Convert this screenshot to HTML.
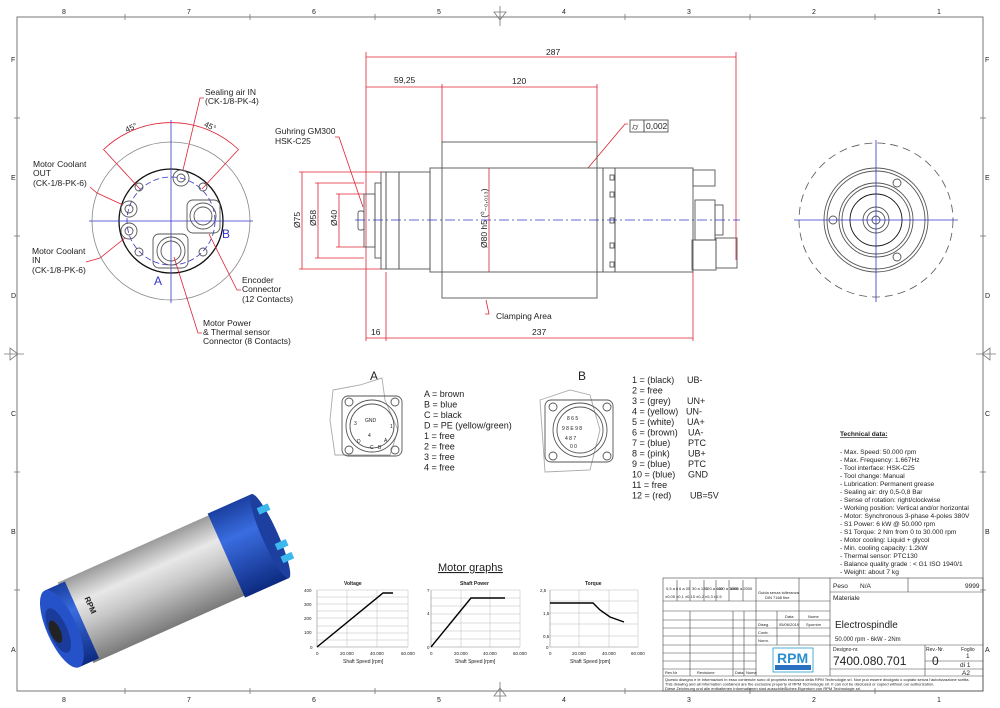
<!DOCTYPE html>
<html><head><meta charset="utf-8"><style>
html,body{margin:0;padding:0;background:#fff}
svg{display:block}
text{font-family:"Liberation Sans",Arial,sans-serif;fill:#222}
.r{stroke:#d23;stroke-width:.8;fill:none}
.k{stroke:#555;stroke-width:.9;fill:none}
.kb{stroke:#111;stroke-width:1.3;fill:none}
.b{stroke:#33c;stroke-width:.8;fill:none}
.bd{stroke:#33c;stroke-width:.8;fill:none;stroke-dasharray:10 3 2 3}
.g{stroke:#bbb;stroke-width:.5;fill:none}
</style></head><body>
<svg width="1000" height="708" viewBox="0 0 1000 708" xmlns="http://www.w3.org/2000/svg">
<defs>
<linearGradient id="sil" x1="0" y1="0" x2="0" y2="1"><stop offset="0" stop-color="#9a9a9a"/><stop offset=".3" stop-color="#e8e8e8"/><stop offset=".55" stop-color="#c8c8c8"/><stop offset="1" stop-color="#7a7a7a"/></linearGradient>
<linearGradient id="blu" x1="0" y1="0" x2="0" y2="1"><stop offset="0" stop-color="#1a3fa0"/><stop offset=".35" stop-color="#3a6de0"/><stop offset="1" stop-color="#0d2a80"/></linearGradient>
</defs>
<rect x="17" y="17" width="966" height="674" fill="none" stroke="#777" stroke-width="1"/>
<g font-size="7" fill="#666">
<text x="62" y="14">8</text><text x="187" y="14">7</text><text x="312" y="14">6</text><text x="437" y="14">5</text><text x="562" y="14">4</text><text x="687" y="14">3</text><text x="812" y="14">2</text><text x="937" y="14">1</text>
<text x="62" y="702">8</text><text x="187" y="702">7</text><text x="312" y="702">6</text><text x="437" y="702">5</text><text x="562" y="702">4</text><text x="687" y="702">3</text><text x="812" y="702">2</text><text x="937" y="702">1</text>
<text x="11" y="62">F</text><text x="11" y="180">E</text><text x="11" y="298">D</text><text x="11" y="416">C</text><text x="11" y="534">B</text><text x="11" y="652">A</text>
<text x="985" y="62">F</text><text x="985" y="180">E</text><text x="985" y="298">D</text><text x="985" y="416">C</text><text x="985" y="534">B</text><text x="985" y="652">A</text>
</g>
<g stroke="#777" stroke-width=".8">
<line x1="125" y1="14" x2="125" y2="20"/><line x1="250" y1="14" x2="250" y2="20"/><line x1="375" y1="14" x2="375" y2="20"/><line x1="625" y1="14" x2="625" y2="20"/><line x1="750" y1="14" x2="750" y2="20"/><line x1="875" y1="14" x2="875" y2="20"/>
<line x1="125" y1="688" x2="125" y2="694"/><line x1="250" y1="688" x2="250" y2="694"/><line x1="375" y1="688" x2="375" y2="694"/><line x1="625" y1="688" x2="625" y2="694"/><line x1="750" y1="688" x2="750" y2="694"/><line x1="875" y1="688" x2="875" y2="694"/>
<line x1="14" y1="118" x2="20" y2="118"/><line x1="14" y1="236" x2="20" y2="236"/><line x1="14" y1="472" x2="20" y2="472"/><line x1="14" y1="590" x2="20" y2="590"/>
<line x1="980" y1="118" x2="986" y2="118"/><line x1="980" y1="236" x2="986" y2="236"/><line x1="980" y1="472" x2="986" y2="472"/><line x1="980" y1="590" x2="986" y2="590"/>
</g>
<g fill="none" stroke="#777" stroke-width=".8">
<path d="M500 6 L500 26 M494 12 L506 12 L500 20 Z"/><path d="M500 702 L500 682 M494 696 L506 696 L500 688 Z"/>
<path d="M4 354 L24 354 M10 348 L10 360 L18 354 Z"/><path d="M996 354 L976 354 M990 348 L990 360 L982 354 Z"/>
</g>

<!-- LEFT VIEW -->
<circle cx="171" cy="221" r="79" fill="none" stroke="#888" stroke-width=".8"/>
<circle cx="171" cy="221" r="52" class="kb"/>
<circle cx="171" cy="221" r="44" class="b" stroke-dasharray="6 3" stroke-width=".6"/>
<line x1="89" y1="221" x2="253" y2="221" class="b"/>
<line x1="171" y1="120" x2="171" y2="303" class="b"/>
<path d="M103 150 A98 98 0 0 1 239 150" class="r"/>
<line x1="104" y1="150" x2="140" y2="189" class="r"/><line x1="238" y1="150" x2="202" y2="189" class="r"/>
<text x="126" y="131" font-size="8" transform="rotate(-25 130 130)">45°</text>
<text x="204" y="128" font-size="8" transform="rotate(25 208 126)">45°</text>
<g class="k"><circle cx="181" cy="178" r="8"/><circle cx="181" cy="178" r="4"/>
<circle cx="129" cy="209" r="8"/><circle cx="129" cy="209" r="4"/>
<circle cx="129" cy="231" r="8"/><circle cx="129" cy="231" r="4"/>
<circle cx="139" cy="187" r="4"/><circle cx="203" cy="187" r="4"/><circle cx="139" cy="252" r="4"/><circle cx="203" cy="252" r="4"/>
<rect x="187" y="200" width="33" height="33" rx="6"/><circle cx="203" cy="216" r="13"/><circle cx="203" cy="216" r="9"/>
<rect x="153" y="234" width="35" height="34" rx="6"/><circle cx="171" cy="251" r="14"/><circle cx="171" cy="251" r="10"/></g>
<text x="222" y="238" font-size="12" style="fill:#33c">B</text>
<text x="154" y="285" font-size="12" style="fill:#33c">A</text>
<g font-size="8.5">
<text x="205" y="95">Sealing air IN</text><text x="205" y="104">(CK-1/8-PK-4)</text>
<text x="33" y="167">Motor Coolant</text><text x="33" y="176">OUT</text><text x="33" y="186">(CK-1/8-PK-6)</text>
<text x="32" y="254">Motor Coolant</text><text x="32" y="263">IN</text><text x="32" y="273">(CK-1/8-PK-6)</text>
<text x="242" y="283">Encoder</text><text x="242" y="292">Connector</text><text x="242" y="302">(12 Contacts)</text>
<text x="203" y="326">Motor Power</text><text x="203" y="335">&amp; Thermal sensor</text><text x="203" y="344">Connector (8 Contacts)</text>
</g>
<g class="r"><path d="M204 98 L200 98 L183 170"/><path d="M90 187 L97 193 L123 205"/><path d="M86 262 L100 258 L125 238"/><path d="M241 290 L237 290 L209 234"/><path d="M202 333 L198 333 L174 257"/></g>

<!-- MIDDLE SIDE VIEW -->
<g class="r">
<line x1="366" y1="52" x2="366" y2="341"/><line x1="736" y1="52" x2="736" y2="260"/>
<line x1="366" y1="57" x2="736" y2="57"/>
<line x1="366" y1="87" x2="442" y2="87"/><line x1="442" y1="87" x2="597" y2="87"/>
<line x1="442" y1="84" x2="442" y2="142"/><line x1="597" y1="84" x2="597" y2="142"/>
<line x1="366" y1="338" x2="386" y2="338"/><line x1="386" y1="338" x2="693" y2="338"/>
<line x1="386" y1="272" x2="386" y2="341"/><line x1="693" y1="272" x2="693" y2="341"/>
<line x1="302" y1="172" x2="302" y2="269"/><line x1="299" y1="172" x2="381" y2="172"/><line x1="299" y1="269" x2="381" y2="269"/>
<line x1="318" y1="183" x2="318" y2="258"/><line x1="315" y1="183" x2="364" y2="183"/><line x1="315" y1="258" x2="364" y2="258"/>
<line x1="339" y1="194" x2="339" y2="247"/><line x1="336" y1="194" x2="364" y2="194"/><line x1="336" y1="247" x2="364" y2="247"/>
<line x1="489" y1="168" x2="489" y2="272"/>
<path d="M335 137 L339 137 L363 207"/><path d="M628 124 L625 124 L588 168"/><path d="M485 314 L489 314 L486 300"/>
</g>
<g font-size="8.5"><text x="546" y="55">287</text><text x="394" y="83">59,25</text><text x="512" y="84">120</text><text x="371" y="335">16</text><text x="532" y="335">237</text>
<text x="275" y="134">Guhring GM300</text><text x="275" y="144">HSK-C25</text><text x="496" y="319">Clamping Area</text>
<text transform="translate(300 228) rotate(-90)">Ø75</text><text transform="translate(316 226) rotate(-90)">Ø58</text><text transform="translate(337 226) rotate(-90)">Ø40</text>
<text transform="translate(487 248) rotate(-90)">Ø80 h5 (⁰₋₀,₀₁₃)</text></g>
<rect x="630" y="120" width="14" height="12" class="k"/><rect x="644" y="120" width="24" height="12" class="k"/><text x="646" y="129" font-size="8.5">0,002</text><text x="632" y="130" font-size="9">⌭</text>
<g class="k">
<rect x="442" y="142" width="155" height="156"/>
<rect x="430" y="168" width="173" height="104"/>
<rect x="603" y="168" width="12" height="104"/><rect x="615" y="168" width="78" height="104"/>
<rect x="399" y="172" width="31" height="97"/><rect x="381" y="172" width="5" height="97"/><rect x="386" y="172" width="13" height="97"/>
<rect x="375" y="183" width="6" height="75"/><rect x="364" y="194" width="11" height="53"/><rect x="358" y="211" width="6" height="19" rx="2"/>
<rect x="693" y="170" width="22" height="16"/><rect x="695" y="200" width="20" height="40"/><rect x="715" y="205" width="8" height="30"/><rect x="692" y="240" width="24" height="30"/><rect x="716" y="238" width="21" height="30"/>
<rect x="610" y="175" width="4" height="5"/><rect x="610" y="192" width="4" height="5"/><rect x="610" y="218" width="4" height="5"/><rect x="610" y="243" width="4" height="5"/><rect x="610" y="262" width="4" height="5"/>
</g>
<line x1="355" y1="220" x2="740" y2="220" class="bd"/>

<!-- RIGHT VIEW -->
<circle cx="876" cy="220" r="77" fill="none" stroke="#555" stroke-width=".8" stroke-dasharray="8 5"/>
<g class="k"><circle cx="876" cy="220" r="52"/><circle cx="876" cy="220" r="49"/><circle cx="876" cy="220" r="37"/><circle cx="876" cy="220" r="34"/>
<circle cx="876" cy="220" r="26" stroke="#111"/><circle cx="876" cy="220" r="13"/><circle cx="876" cy="220" r="9"/><circle cx="876" cy="220" r="4"/>
<circle cx="897" cy="183" r="4"/><circle cx="833" cy="220" r="4"/><circle cx="897" cy="257" r="4"/></g>
<line x1="794" y1="220" x2="958" y2="220" class="b"/><line x1="876" y1="140" x2="876" y2="302" class="b"/>

<!-- CONNECTORS -->
<text x="370" y="380" font-size="12">A</text><text x="578" y="380" font-size="12">B</text>
<g class="k" stroke-width=".7">
<path d="M333 390 L360 385 L382 378 L385 400 L398 430 L390 455 L335 455 L330 420 Z" stroke="#aaa"/>
<rect x="342" y="396" width="60" height="60" rx="6"/><circle cx="372" cy="426" r="26"/><circle cx="372" cy="426" r="22"/>
<circle cx="349" cy="402" r="4"/><circle cx="395" cy="402" r="4"/><circle cx="349" cy="450" r="4"/><circle cx="395" cy="450" r="4"/>
<path d="M540 400 L570 390 L590 395 L600 430 L590 470 L545 472 Z" stroke="#aaa"/>
<rect x="545" y="400" width="68" height="62" rx="6"/><circle cx="580" cy="430" r="27"/><circle cx="580" cy="430" r="23"/>
<circle cx="553" cy="407" r="4"/><circle cx="607" cy="407" r="4"/><circle cx="553" cy="456" r="4"/><circle cx="607" cy="456" r="4"/>
</g>
<g font-size="5" fill="#333"><text x="365" y="422">GND</text><text x="354" y="425">3</text><text x="390" y="428">1</text><text x="368" y="437">4</text><text x="357" y="443">D</text><text x="384" y="442">A</text><text x="370" y="449">C</text><text x="378" y="449">B</text>
<text x="567" y="420">8 6 5</text><text x="562" y="430">9 8 E 9 8</text><text x="565" y="440">4 8 7</text><text x="570" y="448">0 0</text></g>
<g font-size="9">
<text x="424" y="397">A = brown</text><text x="424" y="407.5">B = blue</text><text x="424" y="418">C = black</text><text x="424" y="428.5">D = PE (yellow/green)</text><text x="424" y="439">1 = free</text><text x="424" y="449.5">2 = free</text><text x="424" y="460">3 = free</text><text x="424" y="470.5">4 = free</text>
<text x="632" y="383">1 = (black)</text><text x="687" y="383">UB-</text>
<text x="632" y="393.5">2 = free</text>
<text x="632" y="404">3 = (grey)</text><text x="687" y="404">UN+</text>
<text x="632" y="414.5">4 = (yellow)</text><text x="686" y="414.5">UN-</text>
<text x="632" y="425">5 = (white)</text><text x="687" y="425">UA+</text>
<text x="632" y="435.5">6 = (brown)</text><text x="688" y="435.5">UA-</text>
<text x="632" y="446">7 = (blue)</text><text x="688" y="446">PTC</text>
<text x="632" y="456.5">8 = (pink)</text><text x="688" y="456.5">UB+</text>
<text x="632" y="467">9 = (blue)</text><text x="688" y="467">PTC</text>
<text x="632" y="477.5">10 = (blue)</text><text x="688" y="477.5">GND</text>
<text x="632" y="488">11 = free</text>
<text x="632" y="498.5">12 = (red)</text><text x="690" y="498.5">UB=5V</text>
</g>

<!-- TECH DATA -->
<g font-size="6.6">
<text x="840" y="436" font-weight="bold" text-decoration="underline">Technical data:</text>
<text x="840" y="454">- Max. Speed: 50.000 rpm</text>
<text x="840" y="462">- Max. Frequency: 1.667Hz</text>
<text x="840" y="470">- Tool interface: HSK-C25</text>
<text x="840" y="478">- Tool change: Manual</text>
<text x="840" y="486">- Lubrication: Permanent grease</text>
<text x="840" y="494">- Sealing air: dry 0,5-0,8 Bar</text>
<text x="840" y="502">- Sense of rotation: right/clockwise</text>
<text x="840" y="510">- Working position: Vertical and/or horizontal</text>
<text x="840" y="518">- Motor: Synchronous 3-phase 4-poles 380V</text>
<text x="840" y="526">- S1 Power: 6 kW @ 50.000 rpm</text>
<text x="840" y="534">- S1 Torque: 2 Nm from 0 to 30.000 rpm</text>
<text x="840" y="542">- Motor cooling: Liquid + glycol</text>
<text x="840" y="550">- Min. cooling capacity: 1.2kW</text>
<text x="840" y="558">- Thermal sensor:  PTC130</text>
<text x="840" y="566">- Balance quality grade : &lt; G1 ISO 1940/1</text>
<text x="840" y="574">- Weight: about 7 kg</text>
</g>

<!-- PHOTO -->
<g transform="translate(-5 12) rotate(-24 150 570)">
<rect x="70" y="535" width="170" height="88" fill="url(#sil)"/>
<rect x="235" y="533" width="48" height="92" fill="url(#blu)"/>
<ellipse cx="283" cy="579" rx="8" ry="46" fill="#1c3fa0"/>
<rect x="282" y="548" width="12" height="7" fill="#3bb8ee"/><rect x="284" y="588" width="12" height="7" fill="#3bb8ee"/><rect x="284" y="602" width="12" height="7" fill="#3bb8ee"/>
<rect x="55" y="537" width="22" height="84" fill="url(#blu)"/>
<ellipse cx="55" cy="579" rx="15" ry="42" fill="#2552c8"/>
<ellipse cx="51" cy="579" rx="9" ry="24" fill="#1a3b99"/>
<ellipse cx="48" cy="579" rx="5" ry="12" fill="#222"/>
<text x="88" y="560" font-size="8" font-weight="bold" transform="rotate(90 88 560)">RPM</text>
</g>

<!-- GRAPHS -->
<text x="438" y="571" font-size="11" text-decoration="underline">Motor graphs</text>
<g font-size="5">
<text x="344" y="585" font-weight="bold">Voltage</text><text x="460" y="585" font-weight="bold">Shaft Power</text><text x="585" y="585" font-weight="bold">Torque</text>
<text x="343" y="663">Shaft Speed [rpm]</text><text x="455" y="663">Shaft Speed [rpm]</text><text x="570" y="663">Shaft Speed [rpm]</text>
</g>
<g class="g">
<path d="M317 590 H408 M317 597 H408 M317 604 H408 M317 611 H408 M317 618 H408 M317 626 H408 M317 633 H408 M317 640 H408 M347 590 V647 M377 590 V647 M408 590 V647"/>
<path d="M431 590 H520 M431 598 H520 M431 606 H520 M431 614 H520 M431 623 H520 M431 631 H520 M431 639 H520 M461 590 V647 M490 590 V647 M520 590 V647"/>
<path d="M550 590 H638 M550 601 H638 M550 613 H638 M550 624 H638 M550 636 H638 M579 590 V647 M609 590 V647 M638 590 V647"/>
</g>
<g stroke="#888" stroke-width=".6" fill="none"><path d="M317 590 V647 H408"/><path d="M431 590 V647 H520"/><path d="M550 590 V647 H638"/></g>
<g stroke="#000" stroke-width="1.4" fill="none"><path d="M317 647 L383 593 L393 593"/><path d="M431 647 L471 598 L505 598"/><path d="M550 603 L593 603 L600 610 L610 617 L624 622"/></g>
<g font-size="4.5" fill="#444">
<text x="304" y="592">400</text><text x="304" y="606">300</text><text x="304" y="620">200</text><text x="304" y="634">100</text><text x="310" y="649">0</text>
<text x="427" y="592">7</text><text x="427" y="615">4</text><text x="427" y="649">0</text>
<text x="540" y="592">2,5</text><text x="543" y="615">1,5</text><text x="543" y="638">0,5</text><text x="546" y="649">0</text>
<text x="316" y="655">0</text><text x="340" y="655">20.000</text><text x="370" y="655">40.000</text><text x="401" y="655">60.000</text>
<text x="430" y="655">0</text><text x="454" y="655">20.000</text><text x="483" y="655">40.000</text><text x="513" y="655">60.000</text>
<text x="549" y="655">0</text><text x="572" y="655">20.000</text><text x="602" y="655">40.000</text><text x="631" y="655">60.000</text>
</g>

<!-- TITLE BLOCK -->
<g stroke="#444" stroke-width=".6" fill="none">
<rect x="663" y="578" width="320" height="113"/>
<line x1="663" y1="676" x2="983" y2="676"/>
<line x1="756" y1="578" x2="756" y2="676"/><line x1="799" y1="578" x2="799" y2="645"/><line x1="830" y1="578" x2="830" y2="676"/>
<line x1="830" y1="592" x2="983" y2="592"/><line x1="908" y1="578" x2="908" y2="592"/>
<line x1="663" y1="601" x2="830" y2="601"/><line x1="663" y1="611" x2="830" y2="611"/>
<line x1="663" y1="620" x2="756" y2="620"/><line x1="663" y1="628" x2="756" y2="628"/><line x1="663" y1="636" x2="756" y2="636"/><line x1="663" y1="645" x2="830" y2="645"/><line x1="663" y1="653" x2="756" y2="653"/><line x1="663" y1="661" x2="756" y2="661"/><line x1="663" y1="669" x2="756" y2="669"/>
<line x1="756" y1="620" x2="830" y2="620"/><line x1="756" y1="628" x2="830" y2="628"/><line x1="756" y1="636" x2="830" y2="636"/>
<line x1="830" y1="645" x2="983" y2="645"/><line x1="830" y1="669" x2="983" y2="669"/>
<line x1="925" y1="645" x2="925" y2="676"/><line x1="925" y1="661" x2="983" y2="661"/>
<line x1="677" y1="580" x2="677" y2="601"/><line x1="690" y1="580" x2="690" y2="601"/><line x1="704" y1="580" x2="704" y2="601"/><line x1="716" y1="580" x2="716" y2="601"/><line x1="729" y1="580" x2="729" y2="601"/><line x1="743" y1="580" x2="743" y2="601"/>
<line x1="690" y1="611" x2="690" y2="676"/><line x1="733" y1="611" x2="733" y2="676"/><line x1="744" y1="611" x2="744" y2="676"/>
<line x1="777" y1="611" x2="777" y2="645"/>
</g>
<g font-size="4" fill="#444">
<text x="666" y="590">0,5 a 6</text><text x="679" y="590">6 a 30</text><text x="692" y="590">30 a 120</text><text x="705" y="590">120 a 400</text><text x="718" y="590">400 a 1000</text><text x="730" y="590">1000 a 2000</text>
<text x="665" y="598">±0,05 ±0,1 ±0,15 ±0,2 ±0,3 ±0,5</text>
<text x="758" y="594">Guida senza tolleranza</text><text x="765" y="599">DIN 7168 fine</text>
<text x="785" y="618">Data</text><text x="808" y="618">Nome</text>
<text x="758" y="626">Diseg.</text><text x="779" y="626">05/06/2019</text><text x="806" y="626">Spurnim</text>
<text x="758" y="634">Contr.</text><text x="758" y="642">Norm.</text>
<text x="665" y="674">Rev.Nr</text><text x="697" y="674">Revisione</text><text x="735" y="674">Data</text><text x="746" y="674">Nome</text>
<text x="665" y="681">Questo disegno e le informazioni in esso contenute sono di proprietà esclusiva della RPM Technologie srl. Non può essere divulgato o copiato senza l'autorizzazione scritta.</text>
<text x="665" y="685.5">This drawing and all information contained are the exclusive property of RPM Technologie srl. It can not be disclosed or copied without our authorization.</text>
<text x="665" y="690">Diese Zeichnung und alle enthaltenen Informationen sind ausschließliches Eigentum von RPM Technologie srl.</text>
</g>
<g font-size="6.5"><text x="833" y="588">Peso</text><text x="860" y="588">N/A</text><text x="965" y="588">9999</text><text x="833" y="600">Materiale</text>
<text x="833" y="651" font-size="5">Designo-nr.</text><text x="926" y="651" font-size="5">Rev.-Nr.</text><text x="961" y="651" font-size="5">Foglio</text><text x="966" y="658">1</text><text x="960" y="667">di  1</text><text x="962" y="675">A2</text></g>
<text x="835" y="628" font-size="10">Electrospindle</text>
<text x="835" y="641" font-size="6">50.000 rpm - 6kW - 2Nm</text>
<text x="833" y="665" font-size="12">7400.080.701</text>
<text x="932" y="665" font-size="12">0</text>
<rect x="773" y="648" width="40" height="24" fill="none" stroke="#29c" stroke-width=".8"/>
<text x="777" y="663" font-size="14" font-weight="bold" style="fill:#2a8ed0">RPM</text>
<rect x="775" y="665" width="36" height="5" fill="#2a6fc0"/>
</svg>
</body></html>
